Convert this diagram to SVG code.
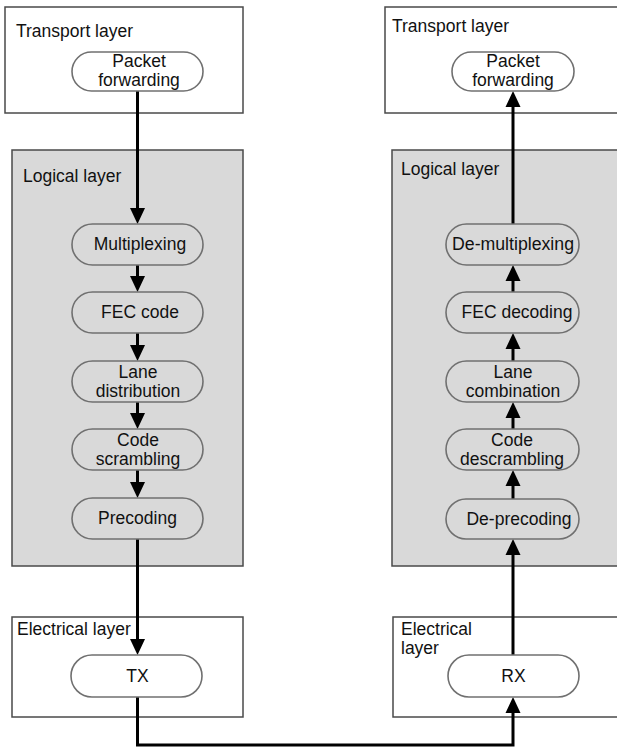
<svg xmlns="http://www.w3.org/2000/svg" width="617" height="749" viewBox="0 0 617 749">
  <style>
    .layer { fill: #ffffff; stroke: #4a4a4a; stroke-width: 1.5; }
    .layer.logic { fill: #d9d9d9; }
    .pill { fill: #ffffff; stroke: #707070; stroke-width: 1.6; }
    .pill.logic { fill: #d9d9d9; }
    text { font-family: "Liberation Sans", Arial, sans-serif; font-size: 17.5px; fill: #111111; }
    .c { text-anchor: middle; }
    .wire { fill: none; stroke: #000000; stroke-width: 3; marker-end: url(#ah); }
  </style>
  <defs>
    <marker id="ah" markerUnits="userSpaceOnUse" markerWidth="16" markerHeight="16" viewBox="0 0 16 16" refX="8" refY="8" orient="auto">
      <path d="M0,0.5 L16,8 L0,15.5 z" fill="#000000"/>
    </marker>
  </defs>

  <!-- Layer containers -->
  <g id="tx-transport">
    <rect class="layer" x="5" y="7" width="238" height="106"/>
    <text x="16" y="37">Transport layer</text>
  </g>
  <g id="rx-transport">
    <rect class="layer" x="385" y="7" width="240" height="106"/>
    <text x="392" y="32">Transport layer</text>
  </g>
  <g id="tx-logical">
    <rect class="layer logic" x="12" y="150" width="231" height="416"/>
    <text x="23" y="182">Logical layer</text>
  </g>
  <g id="rx-logical">
    <rect class="layer logic" x="392" y="150" width="233" height="416"/>
    <text x="401" y="175">Logical layer</text>
  </g>
  <g id="tx-electrical">
    <rect class="layer" x="12" y="617" width="231" height="100"/>
    <text x="17" y="635">Electrical layer</text>
  </g>
  <g id="rx-electrical">
    <rect class="layer" x="393" y="617" width="232" height="100"/>
    <text x="401" y="635">Electrical</text>
    <text x="401" y="654">layer</text>
  </g>

  <!-- Connectors -->
  <g id="connectors">
    <line class="wire" x1="137.5" y1="91" x2="137.5" y2="216"/>
    <line class="wire" x1="137.5" y1="265" x2="137.5" y2="284"/>
    <line class="wire" x1="137.5" y1="333" x2="137.5" y2="353"/>
    <line class="wire" x1="137.5" y1="402" x2="137.5" y2="421"/>
    <line class="wire" x1="137.5" y1="470" x2="137.5" y2="490"/>
    <line class="wire" x1="137.5" y1="539" x2="137.5" y2="647"/>
    <path class="wire" d="M137.5,697 V745 H513 V705"/>
    <line class="wire" x1="513" y1="655" x2="513" y2="547"/>
    <line class="wire" x1="513" y1="499" x2="513" y2="478"/>
    <line class="wire" x1="513" y1="429" x2="513" y2="410"/>
    <line class="wire" x1="513" y1="361" x2="513" y2="341"/>
    <line class="wire" x1="513" y1="292" x2="513" y2="273"/>
    <line class="wire" x1="513" y1="224" x2="513" y2="99"/>
  </g>

  <!-- Transmit side steps -->
  <g id="tx-packet-forwarding">
    <rect class="pill" x="72" y="52" width="131" height="39" rx="19.5"/>
    <text class="c" x="139" y="67">Packet</text>
    <text class="c" x="139" y="86">forwarding</text>
  </g>
  <g id="multiplexing">
    <rect class="pill logic" x="72" y="224" width="131" height="41" rx="20.5"/>
    <text class="c" x="140" y="250">Multiplexing</text>
  </g>
  <g id="fec-code">
    <rect class="pill logic" x="72" y="292" width="131" height="41" rx="20.5"/>
    <text class="c" x="140" y="318">FEC code</text>
  </g>
  <g id="lane-distribution">
    <rect class="pill logic" x="72" y="361" width="131" height="41" rx="20.5"/>
    <text class="c" x="138" y="378">Lane</text>
    <text class="c" x="138" y="397">distribution</text>
  </g>
  <g id="code-scrambling">
    <rect class="pill logic" x="72" y="429" width="131" height="41" rx="20.5"/>
    <text class="c" x="138" y="446">Code</text>
    <text class="c" x="138" y="465">scrambling</text>
  </g>
  <g id="precoding">
    <rect class="pill logic" x="72" y="498" width="131" height="41" rx="20.5"/>
    <text class="c" x="137.5" y="524">Precoding</text>
  </g>
  <g id="tx">
    <rect class="pill" x="71" y="655" width="131" height="42" rx="21"/>
    <text class="c" x="137.5" y="682">TX</text>
  </g>

  <!-- Receive side steps -->
  <g id="rx-packet-forwarding">
    <rect class="pill" x="452" y="52" width="122" height="39" rx="19.5"/>
    <text class="c" x="513" y="67">Packet</text>
    <text class="c" x="513" y="86">forwarding</text>
  </g>
  <g id="de-multiplexing">
    <rect class="pill logic" x="446" y="224" width="133" height="41" rx="20.5"/>
    <text class="c" x="513" y="250" textLength="122" lengthAdjust="spacingAndGlyphs">De-multiplexing</text>
  </g>
  <g id="fec-decoding">
    <rect class="pill logic" x="446" y="292" width="133" height="41" rx="20.5"/>
    <text class="c" x="517" y="318">FEC decoding</text>
  </g>
  <g id="lane-combination">
    <rect class="pill logic" x="446" y="361" width="133" height="41" rx="20.5"/>
    <text class="c" x="513" y="378">Lane</text>
    <text class="c" x="513" y="397">combination</text>
  </g>
  <g id="code-descrambling">
    <rect class="pill logic" x="446" y="429" width="133" height="41" rx="20.5"/>
    <text class="c" x="512" y="446">Code</text>
    <text class="c" x="512" y="465">descrambling</text>
  </g>
  <g id="de-precoding">
    <rect class="pill logic" x="446" y="499" width="133" height="40" rx="20"/>
    <text class="c" x="519" y="525">De-precoding</text>
  </g>
  <g id="rx">
    <rect class="pill" x="448" y="655" width="131" height="42" rx="21"/>
    <text class="c" x="513.5" y="682">RX</text>
  </g>
</svg>
